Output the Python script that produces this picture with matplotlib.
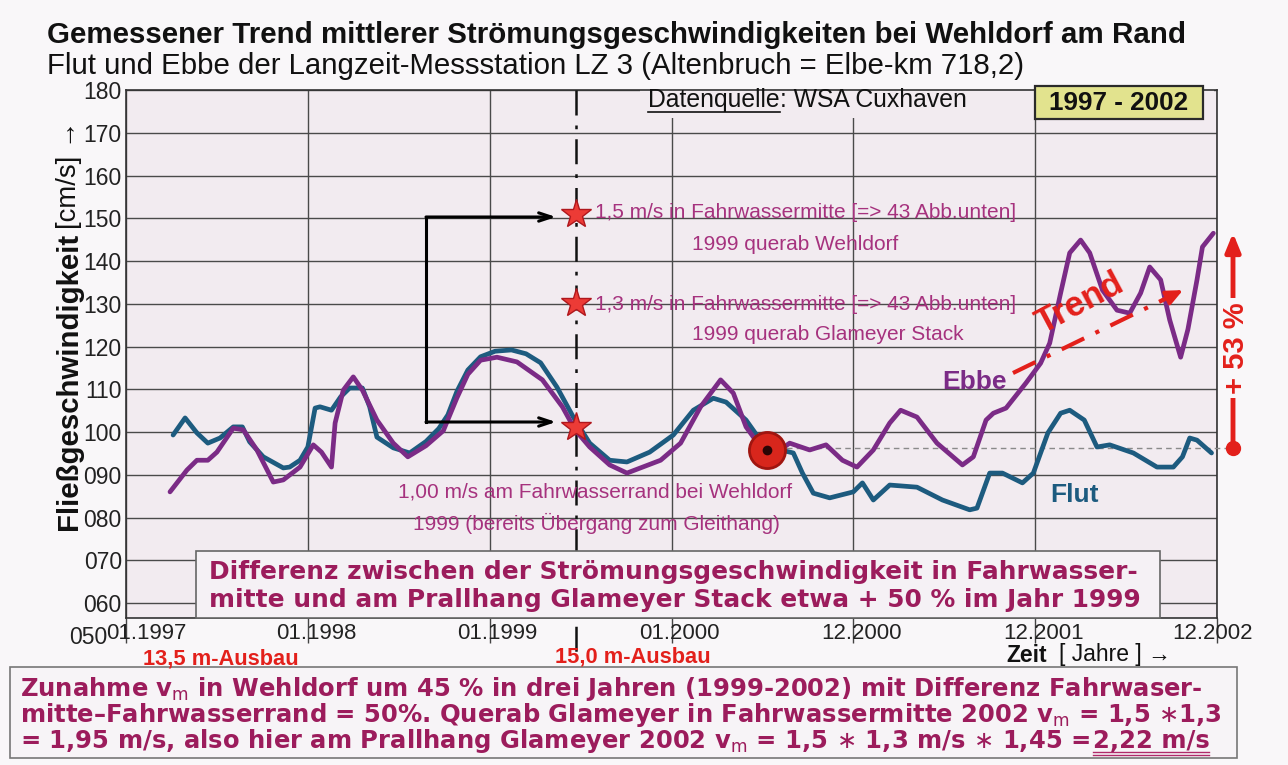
import matplotlib
matplotlib.use("Agg")
import matplotlib.pyplot as plt
from matplotlib import font_manager as fm
from matplotlib.patches import Rectangle
from matplotlib.transforms import ScaledTranslation

plt.rcParams['font.family'] = ['Liberation Sans', 'DejaVu Sans']
plt.rcParams['mathtext.fontset'] = 'custom'
plt.rcParams['mathtext.rm'] = 'DejaVu Sans'
plt.rcParams['mathtext.it'] = 'DejaVu Sans:italic'
plt.rcParams['mathtext.bf'] = 'DejaVu Sans:bold'
plt.rcParams['mathtext.fallback'] = 'cm'

# ---------------- data ----------------
x_tick_labels = ['01.1997', '01.1998', '01.1999', '01.2000', '12.2000', '12.2001', '12.2002']
y_ticks = [60, 70, 80, 90, 100, 110, 120, 130, 140, 150, 160, 170, 180]
y_tick_labels = ['060', '070', '080', '090', '100', '110', '120', '130', '140', '150', '160', '170', '180']

flut_x = [0.259, 0.325, 0.39, 0.45, 0.517, 0.59, 0.64, 0.68, 0.755, 0.865, 0.90, 0.957, 1.0, 1.04,
          1.067, 1.13, 1.18, 1.23, 1.30, 1.34, 1.38, 1.47, 1.56, 1.65, 1.72, 1.77, 1.82, 1.88, 1.95,
          2.03, 2.12, 2.20, 2.28, 2.37, 2.46, 2.55, 2.66, 2.755, 2.88, 3.01, 3.12, 3.23, 3.30, 3.41,
          3.50, 3.60, 3.67, 3.72, 3.78, 3.87, 4.0, 4.05, 4.11, 4.20, 4.35, 4.49, 4.64, 4.68, 4.75,
          4.82, 4.93, 4.99, 5.07, 5.14, 5.19, 5.27, 5.34, 5.41, 5.54, 5.67, 5.76, 5.81, 5.85, 5.89, 5.97]
flut_y = [99.3, 103.3, 99.8, 97.4, 98.6, 101.2, 101.2, 97.7, 94.2, 91.6, 91.8, 93.4, 96.5, 105.6,
          105.9, 105.1, 108.2, 110.3, 110.3, 105.9, 98.8, 96.3, 95.1, 97.8, 100.8, 104.0, 109.5, 114.5, 117.6,
          118.9, 119.2, 118.3, 116.2, 110.5, 103.5, 97.4, 93.4, 93.0, 95.3, 99.3, 105.1, 107.9, 107.0, 102.8,
          97.4, 95.8, 95.1, 90.4, 85.7, 84.6, 86.0, 88.1, 84.1, 87.6, 87.1, 84.1, 81.8, 82.2, 90.4,
          90.4, 88.1, 90.4, 99.8, 104.4, 105.1, 102.8, 96.5, 97.0, 95.1, 91.8, 91.8, 94.2, 98.6, 98.1, 95.1]

ebbe_x = [0.242, 0.335, 0.39, 0.45, 0.50, 0.59, 0.645, 0.72, 0.81, 0.865, 0.957, 1.03, 1.075, 1.13,
          1.15, 1.195, 1.25, 1.30, 1.38, 1.47, 1.55, 1.65, 1.745, 1.82, 1.88, 1.95, 2.04, 2.15, 2.29,
          2.40, 2.47, 2.55, 2.66, 2.755, 2.94, 3.05, 3.16, 3.27, 3.34, 3.41, 3.49, 3.54, 3.65, 3.76,
          3.85, 3.94, 4.02, 4.11, 4.20, 4.26, 4.35, 4.46, 4.60, 4.66, 4.73, 4.77, 4.84, 4.95, 5.03,
          5.08, 5.14, 5.19, 5.25, 5.30, 5.37, 5.45, 5.52, 5.58, 5.63, 5.69, 5.74, 5.80, 5.84, 5.89,
          5.92, 5.98]
ebbe_y = [86.0, 91.1, 93.4, 93.4, 95.3, 100.9, 100.5, 95.8, 88.3, 88.8, 91.8, 97.0, 95.3, 91.8,
          102.1, 109.8, 112.9, 109.8, 102.8, 97.4, 94.2, 96.8, 100.3, 108.0, 113.5, 116.8, 117.5, 116.4, 112.2,
          105.9, 100.5, 96.5, 92.3, 90.4, 93.4, 97.4, 105.9, 112.2, 109.1, 101.2, 96.5, 94.2, 97.4, 95.8,
          97.0, 93.4, 91.8, 95.8, 102.1, 105.1, 103.5, 97.4, 92.3, 94.2, 102.8, 104.4, 105.6, 111.5, 116.1,
          120.8, 132.5, 141.9, 144.9, 141.9, 133.2, 128.5, 127.8, 132.5, 138.6, 135.6, 126.2, 117.5, 124.0, 135.6,
          143.3, 146.5]

star_time = 2.475                 # 15,0 m-Ausbau (mid 1999)
star_values = [151.0, 130.2, 101.2]
turn_time, turn_value = 3.525, 95.8
reference_level = 96.2
trend_from = (4.878, 113.8)
trend_to = (5.813, 133.2)

# ---------------- colours ----------------
FLUT = '#1d5b7f'
EBBE = '#7b2b86'
MAG = '#a6327e'
BOXTXT = '#9c1c5c'
RED = '#e3201b'
AXBG = '#f2ebf0'
FIGBG = '#f9f7f9'
WIDE = ['DejaVu Sans']

try:
    fm.findfont(fm.FontProperties(family='Liberation Sans Narrow'), fallback_to_default=False)
    NARROW = ['Liberation Sans Narrow', 'Liberation Sans', 'DejaVu Sans']
    HAS_NARROW = True
except Exception:
    NARROW = ['Liberation Sans', 'DejaVu Sans']
    HAS_NARROW = False

W, H = 1288, 765
fig = plt.figure(figsize=(W / 100, H / 100), dpi=100, facecolor=FIGBG)
L, R, T, B = 126, 1217, 90, 618
ax = fig.add_axes([L / W, 1 - B / H, (R - L) / W, (B - T) / H])
X0, X1, Y0, Y1 = 0, 6, 56.5, 180
ax.set_xlim(X0, X1)
ax.set_ylim(Y0, Y1)
ax.set_facecolor(AXBG)

def dx(p):
    return X0 + (p - L) * (X1 - X0) / (R - L)

def dy(p):
    return Y1 - (p - T) * (Y1 - Y0) / (B - T)

def fx(p):
    return p / W

def fy(p):
    return 1 - p / H

renderer = fig.canvas.get_renderer()

def fit(t, width=None, height=None, max_size=None):
    bb = t.get_window_extent(renderer)
    if width is not None:
        size = t.get_fontsize() * width / bb.width
    else:
        size = t.get_fontsize() * height / bb.height
    if max_size is not None:
        size = min(size, max_size)
    t.set_fontsize(size)
    return t

# grid / axes
ax.set_yticks(y_ticks)
ax.set_yticklabels(y_tick_labels)
ax.set_xticks(range(len(x_tick_labels)))
ax.set_xticklabels(x_tick_labels)
ax.grid(True, color='#4a4a4a', lw=1.0)
ax.set_axisbelow(True)
for s in ax.spines.values():
    s.set_color('#333333')
    s.set_linewidth(1.2)
ax.tick_params(axis='y', length=0, pad=3, labelsize=16.5, colors='#222222')
ax.tick_params(axis='x', length=18, width=1.0, color='#444444', pad=-14.5, labelsize=16, labelcolor='#222222')
for i, lab in enumerate(ax.get_xticklabels()):
    shift = 20 if i == 0 else (-4 if i == len(x_tick_labels) - 1 else 8)
    lab.set_transform(lab.get_transform() + ScaledTranslation(shift / 100, 0, fig.dpi_scale_trans))
fig.text(fx(107), fy(638), '050', ha='right', va='center', fontsize=16.5, color='#222222')

# cover behind data source note
ax.add_patch(Rectangle((dx(640), dy(118)), dx(1214) - dx(640), Y1 - dy(118),
                       facecolor=AXBG, edgecolor='none', zorder=1))

# curves
ax.plot(flut_x, flut_y, color=FLUT, lw=3.4, solid_joinstyle='round', solid_capstyle='round', zorder=4)
ax.plot(ebbe_x, ebbe_y, color=EBBE, lw=3.4, solid_joinstyle='round', solid_capstyle='round', zorder=5)

# dash-dot line at 15,0 m-Ausbau
ax.plot([star_time, star_time], [Y1, dy(660)], color='#111111', lw=1.8,
        ls=(0, (10, 4, 1.5, 4)), clip_on=False, zorder=3)

# black bracket arrows
bx0, bx1 = dx(426), dx(556)
ax.plot([bx0, bx0], [dy(217), dy(422)], color='black', lw=2.2, zorder=6, solid_capstyle='projecting')
for yy in (dy(217), dy(422)):
    ax.annotate('', xy=(bx1, yy), xytext=(bx0, yy),
                arrowprops=dict(arrowstyle='->,head_length=0.9,head_width=0.3', color='black', lw=2.2,
                                shrinkA=0, shrinkB=0), zorder=6)

# stars
ax.plot([star_time] * len(star_values), star_values, ls='none', marker='*', ms=22,
        mfc='#ec3b36', mec='#b0171d', mew=1.0, zorder=8)

# magenta annotations
t1 = ax.text(dx(595), dy(213), '1,5 m/s in Fahrwassermitte [=> 43 Abb.unten]', ha='left', va='center',
             color=MAG, family=NARROW, fontsize=15, zorder=7)
if HAS_NARROW:
    fit(t1, width=425)
fs_a = t1.get_fontsize()
ax.text(dx(692), dy(245), '1999 querab Wehldorf', ha='left', va='center', color=MAG, family=NARROW, fontsize=fs_a, zorder=7)
ax.text(dx(595), dy(305), '1,3 m/s in Fahrwassermitte [=> 43 Abb.unten]', ha='left', va='center', color=MAG,
        family=NARROW, fontsize=fs_a, zorder=7)
ax.text(dx(692), dy(335), '1999 querab Glameyer Stack', ha='left', va='center', color=MAG, family=NARROW, fontsize=fs_a, zorder=7)
ax.text(dx(398), dy(492), '1,00 m/s am Fahrwasserrand bei Wehldorf', ha='left', va='center', color=MAG,
        family=NARROW, fontsize=fs_a, zorder=7)
ax.text(dx(413), dy(523), '1999 (bereits Übergang zum Gleithang)', ha='left', va='center', color=MAG,
        family=NARROW, fontsize=fs_a, zorder=7)

# turning point marker
ax.plot([turn_time], [turn_value], 'o', ms=26, mfc='#d8261c', mec='#a01510', mew=2, zorder=9)
ax.plot([turn_time], [turn_value], 'o', ms=7, mfc='#2a0505', mec='none', zorder=10)

# reference level dashed + red arrow
ax.plot([turn_time, dx(1233)], [reference_level, reference_level], color='#8a8a8a', lw=1.0,
        ls=(0, (4, 3)), clip_on=False, zorder=3)
ax.plot([dx(1233)], [reference_level], 'o', ms=10, color=RED, clip_on=False, zorder=9)
ax.annotate('', xy=(dx(1233), dy(233)), xytext=(dx(1233), reference_level),
            arrowprops=dict(arrowstyle='-|>,head_length=1.1,head_width=0.45', color=RED, lw=3.5,
                            shrinkA=0, shrinkB=0), annotation_clip=False, zorder=8)
ax.text(dx(1236), dy(348), '+ 53 %', rotation=90, ha='center', va='center', color=RED,
        fontweight='bold', fontsize=21, zorder=9, clip_on=False,
        bbox=dict(boxstyle='square,pad=0.15', fc=FIGBG, ec='none'))

# trend arrow
ax.plot([trend_from[0], trend_to[0] - 0.1], [trend_from[1], trend_to[1] - 2.1], color=RED, lw=3,
        ls=(0, (6, 3, 1, 3)), zorder=8)
ax.annotate('', xy=trend_to, xytext=(trend_to[0] - 0.12, trend_to[1] - 2.5),
            arrowprops=dict(arrowstyle='-|>,head_length=1.0,head_width=0.45', color=RED, lw=2.5,
                            shrinkA=0, shrinkB=0), zorder=8)
ax.text(dx(1080), dy(303), 'Trend', rotation=28, ha='center', va='center', color=RED,
        fontweight='bold', fontsize=25, zorder=9, rotation_mode='anchor')

# series labels
ax.text(dx(975), dy(382), 'Ebbe', ha='center', va='center', color=EBBE, fontweight='bold', fontsize=19, zorder=9)
ax.text(dx(1075), dy(495), 'Flut', ha='center', va='center', color=FLUT, fontweight='bold', fontsize=19, zorder=9)

# Differenz box
ax.add_patch(Rectangle((dx(196), Y0), dx(1160) - dx(196), dy(551) - Y0, facecolor='#f5f1f5',
                       edgecolor='#666666', lw=1.2, zorder=6, clip_on=False))
d1 = ax.text(dx(209), dy(572), 'Differenz zwischen der Strömungsgeschwindigkeit in Fahrwasser-', ha='left',
             va='center', color=BOXTXT, fontweight='bold', family=WIDE, fontsize=18, zorder=7)
d2 = ax.text(dx(209), dy(600), 'mitte und am Prallhang Glameyer Stack etwa + 50 % im Jahr 1999', ha='left',
             va='center', color=BOXTXT, fontweight='bold', family=WIDE, fontsize=18, zorder=7)
wmax = max(d1.get_window_extent(renderer).width, d2.get_window_extent(renderer).width)
fsd = min(18 * 934 / wmax, 19)
d1.set_fontsize(fsd)
d2.set_fontsize(fsd)

# title / subtitle
tt = fig.text(fx(47), fy(35), 'Gemessener Trend mittlerer Strömungsgeschwindigkeiten bei Wehldorf am Rand',
              ha='left', va='center', fontweight='bold', fontsize=18, color='#111111')
fit(tt, width=1138)
st = fig.text(fx(47), fy(66), 'Flut und Ebbe der Langzeit-Messstation LZ 3 (Altenbruch = Elbe-km 718,2)',
              ha='left', va='center', fontsize=17, color='#111111')
fit(st, width=978)

# data source
dq = fig.text(fx(648), fy(100), 'Datenquelle', ha='left', va='center', fontsize=17, color='#111111')
dq2 = fig.text(fx(648), fy(100), ': WSA Cuxhaven', ha='left', va='center', fontsize=17, color='#111111')
bb1 = dq.get_window_extent(renderer)
bb2 = dq2.get_window_extent(renderer)
scale = 320 / (bb1.width + bb2.width)
dq.set_fontsize(17 * scale)
dq2.set_fontsize(17 * scale)
bb1 = dq.get_window_extent(renderer)
dq2.set_x(fx(648 + bb1.width))
fig.add_artist(plt.Line2D([fx(648), fx(648 + bb1.width)], [fy(112), fy(112)], color='#111111', lw=1.2))

# year box
fig.add_artist(Rectangle((fx(1035), fy(119)), (1203 - 1035) / W, 33 / H, facecolor='#e2e38e',
                         edgecolor='#2a2a2a', lw=1.6, transform=fig.transFigure, zorder=3))
yb = fig.text(fx(1119), fy(103), '1997 - 2002', ha='center', va='center', fontweight='bold',
              fontsize=17, color='#111111', zorder=4)
fit(yb, width=140)

# y axis label
yl1 = fig.text(fx(69), fy(530), 'Fließgeschwindigkeit', rotation=90, ha='center', va='bottom',
               fontweight='bold', fontsize=20, color='#111111')
fit(yl1, height=297)
e1 = yl1.get_window_extent(renderer)
yl2 = fig.text(fx(69), e1.y1 / H + 4 / H, '[cm/s] →', rotation=90, ha='center', va='bottom',
               fontsize=yl1.get_fontsize(), color='#111111')
fit(yl2, height=108)

# x axis label and construction notes
z1 = fig.text(fx(1006), fy(655), 'Zeit', ha='left', va='center', fontweight='bold', fontsize=16.5, color='#111111')
ez = z1.get_window_extent(renderer)
fig.text((ez.x1 + 12) / W, fy(655), '[ Jahre ] →', ha='left', va='center', fontsize=16.5, color='#111111')
a1 = fig.text(fx(143), fy(659), '13,5 m-Ausbau', ha='left', va='center', fontweight='bold', fontsize=16, color=RED)
fit(a1, width=155)
fig.text(fx(555), fy(657), '15,0 m-Ausbau', ha='left', va='center', fontweight='bold',
         fontsize=a1.get_fontsize(), color=RED)

# bottom box
fig.add_artist(Rectangle((fx(10), fy(758)), (1237 - 10) / W, 91 / H, facecolor='#f7f4f7',
                         edgecolor='#777777', lw=1.2, transform=fig.transFigure, zorder=1))
AST = r'$\ast$'
bl1 = fig.text(fx(20), fy(689), r'Zunahme v$_{\rm m}$ in Wehldorf um 45 % in drei Jahren (1999-2002) mit Differenz Fahrwaser-',
               ha='left', va='center', fontweight='bold', family=WIDE, fontsize=18, color=BOXTXT, zorder=2)
bl2 = fig.text(fx(20), fy(715), r'mitte–Fahrwasserrand = 50%. Querab Glameyer in Fahrwassermitte 2002 v$_{\rm m}$ = 1,5 ' + AST + '1,3',
               ha='left', va='center', fontweight='bold', family=WIDE, fontsize=18, color=BOXTXT, zorder=2)
wmax = max(bl1.get_window_extent(renderer).width, bl2.get_window_extent(renderer).width)
FSB = min(18 * 1205 / wmax, 18.5)
bl1.set_fontsize(FSB)
bl2.set_fontsize(FSB)
b3 = fig.text(fx(20), fy(741), r'= 1,95 m/s, also hier am Prallhang Glameyer 2002 v$_{\rm m}$ = 1,5 ' + AST +
              ' 1,3 m/s ' + AST + ' 1,45 = ',
              ha='left', va='center', fontweight='bold', family=WIDE, fontsize=FSB, color=BOXTXT, zorder=2)
e3 = b3.get_window_extent(renderer)
b4 = fig.text(e3.x1 / W, fy(741), '2,22 m/s', ha='left', va='center', fontweight='bold', family=WIDE,
              fontsize=FSB, color=BOXTXT, zorder=2)
e4 = b4.get_window_extent(renderer)
for yy in (752, 755):
    fig.add_artist(plt.Line2D([e4.x0 / W, e4.x1 / W], [fy(yy), fy(yy)], color='#b02a6a', lw=1.0, zorder=2))

fig.savefig('out.png', dpi=100, facecolor=FIGBG)
